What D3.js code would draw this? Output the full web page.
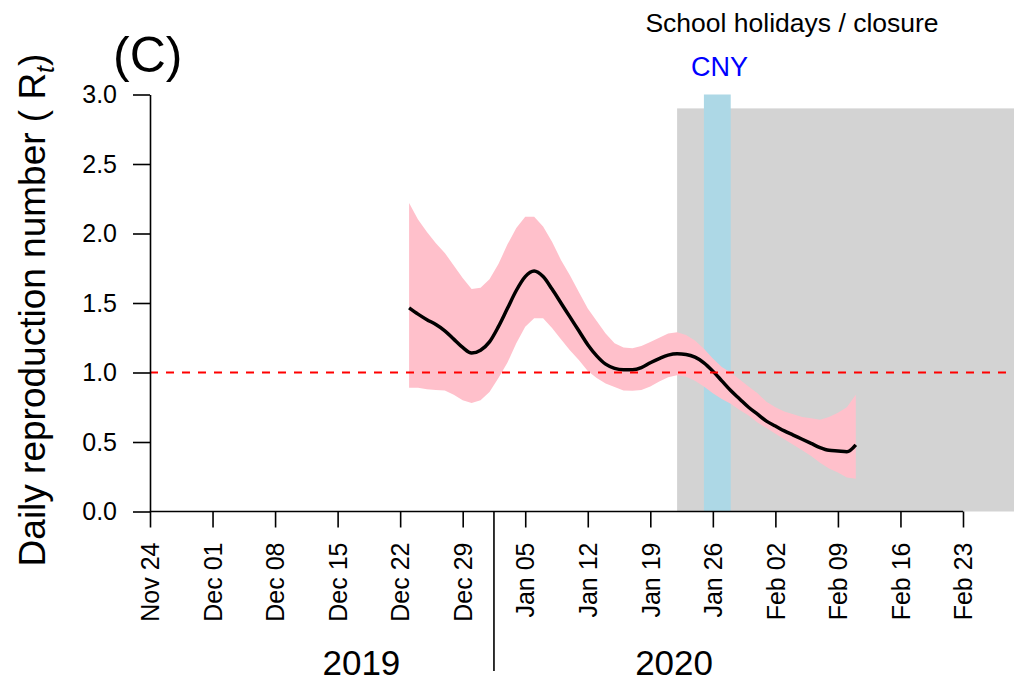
<!DOCTYPE html>
<html>
<head>
<meta charset="utf-8">
<script src="https://cdn.jsdelivr.net/npm/d3@7"></script>
<style>
  body { margin: 0; background: #fff; }
  svg { display: block; font-family: "Liberation Sans", Arial, sans-serif; }
</style>
</head>
<body>
<div id="chart"></div>
<script>
// daily estimates, Dec 23 2019 .. Feb 11 2020
const startDate = "2019-12-23";
const rtMean = [1.465, 1.42, 1.38, 1.345, 1.30, 1.24, 1.18, 1.14, 1.16, 1.22,
  1.33, 1.46, 1.59, 1.69, 1.73, 1.69, 1.60, 1.50, 1.40, 1.30,
  1.20, 1.12, 1.06, 1.03, 1.02, 1.02, 1.035, 1.07, 1.10, 1.125,
  1.135, 1.13, 1.11, 1.07, 1.01, 0.94, 0.87, 0.81, 0.75, 0.70,
  0.65, 0.615, 0.58, 0.55, 0.52, 0.49, 0.46, 0.44, 0.435, 0.43, 0.48];
const rtUpper = [2.22, 2.10, 2.01, 1.93, 1.86, 1.77, 1.68, 1.60, 1.61, 1.67,
  1.78, 1.92, 2.04, 2.12, 2.12, 2.05, 1.94, 1.81, 1.70, 1.58,
  1.46, 1.37, 1.28, 1.21, 1.18, 1.175, 1.19, 1.22, 1.25, 1.28,
  1.29, 1.27, 1.23, 1.17, 1.10, 1.04, 1.00, 0.95, 0.90, 0.85,
  0.79, 0.75, 0.72, 0.70, 0.68, 0.67, 0.66, 0.68, 0.71, 0.75, 0.84];
const rtLower = [0.89, 0.89, 0.88, 0.875, 0.87, 0.84, 0.80, 0.78, 0.80, 0.86,
  0.96, 1.07, 1.21, 1.33, 1.39, 1.39, 1.32, 1.24, 1.16, 1.09,
  1.01, 0.96, 0.92, 0.895, 0.87, 0.868, 0.875, 0.90, 0.935, 0.965,
  0.98, 0.97, 0.94, 0.90, 0.85, 0.81, 0.775, 0.73, 0.69, 0.64,
  0.60, 0.56, 0.52, 0.48, 0.44, 0.40, 0.35, 0.31, 0.28, 0.245, 0.235];

const tickDates = ["2019-11-24", "2019-12-01", "2019-12-08", "2019-12-15", "2019-12-22",
  "2019-12-29", "2020-01-05", "2020-01-12", "2020-01-19", "2020-01-26",
  "2020-02-02", "2020-02-09", "2020-02-16", "2020-02-23"];
const yTicks = [0, 0.5, 1, 1.5, 2, 2.5, 3];
const schoolClosure = ["2020-01-22", "2020-03-05", 2.9];
const cny = ["2020-01-25", "2020-01-28", 3.0];
const years = [{label: "2019", date: "2019-12-18"}, {label: "2020", date: "2020-01-22"}];
const yearBreak = "2020-01-01T12:00";

const W = 1014, H = 682;
const parse = d3.isoParse;
const day0 = parse(startDate);
const data = rtMean.map((m, i) => ({
  date: d3.timeDay.offset(day0, i), mean: m, lo: rtLower[i], hi: rtUpper[i]
}));

const svg = d3.select("#chart").append("svg")
  .attr("width", W).attr("height", H);

// scales
const x = d3.scaleTime()
  .domain([parse("2019-11-24"), parse("2020-02-29")])
  .range([150, 150 + 97 * 8.934]);
const y = d3.scaleLinear().domain([0, 3]).range([511.5, 94.5]);

// shaded periods
svg.append("rect")
  .attr("x", x(parse(schoolClosure[0])))
  .attr("y", y(schoolClosure[2]))
  .attr("width", W - x(parse(schoolClosure[0])))
  .attr("height", y(0) - y(schoolClosure[2]))
  .attr("fill", "#d3d3d3");

svg.append("rect")
  .attr("x", x(parse(cny[0])))
  .attr("y", y(cny[2]))
  .attr("width", x(parse(cny[1])) - x(parse(cny[0])))
  .attr("height", y(0) - y(cny[2]))
  .attr("fill", "#add8e6");

// credible interval
svg.append("path")
  .datum(data)
  .attr("fill", "#ffc0cb")
  .attr("d", d3.area().x(d => x(d.date)).y0(d => y(d.lo)).y1(d => y(d.hi)));

// mean Rt
svg.append("path")
  .datum(data)
  .attr("fill", "none")
  .attr("stroke", "#000")
  .attr("stroke-width", 3.5)
  .attr("stroke-linejoin", "round")
  .attr("d", d3.line().x(d => x(d.date)).y(d => y(d.mean)).curve(d3.curveMonotoneX));

// threshold R = 1
svg.append("line")
  .attr("x1", x.range()[0]).attr("x2", W)
  .attr("y1", y(1)).attr("y2", y(1))
  .attr("stroke", "#ff0000")
  .attr("stroke-width", 2)
  .attr("stroke-dasharray", "8,8");

// y axis
const yAxis = svg.append("g")
  .attr("transform", "translate(150,0)")
  .call(d3.axisLeft(y).tickValues(yTicks).tickFormat(d3.format(".1f")).tickSize(17).tickSizeOuter(0));
yAxis.select(".domain").attr("stroke-width", 1.6);
yAxis.selectAll(".tick line").attr("stroke-width", 1.6);
yAxis.selectAll("text")
  .attr("font-size", 25)
  .attr("font-family", "Liberation Sans, Arial, sans-serif")
  .attr("fill", "#000")
  .attr("x", -33);

// x axis
const xAxis = svg.append("g")
  .attr("transform", `translate(0,${y(0)})`)
  .call(d3.axisBottom(x).tickValues(tickDates.map(parse))
    .tickFormat(d3.timeFormat("%b %d")).tickSize(16).tickSizeOuter(0));
xAxis.select(".domain").attr("d", `M${x(parse(tickDates[0]))},0H${x(parse(tickDates[tickDates.length - 1]))}`)
  .attr("stroke-width", 1.6);
xAxis.selectAll(".tick line").attr("stroke-width", 1.6);
xAxis.selectAll("text")
  .attr("font-size", 25)
  .attr("font-family", "Liberation Sans, Arial, sans-serif")
  .attr("fill", "#000")
  .attr("transform", "rotate(-90)")
  .attr("text-anchor", "end")
  .attr("x", -31)
  .attr("y", 0)
  .attr("dy", "0.35em");

// year separator and labels
svg.append("line")
  .attr("x1", x(parse(yearBreak))).attr("x2", x(parse(yearBreak)))
  .attr("y1", y(0)).attr("y2", 671)
  .attr("stroke", "#000").attr("stroke-width", 1.6);

svg.selectAll(".year")
  .data(years)
  .enter()
  .append("text")
  .attr("x", d => x(parse(d.date)) - 3)
  .attr("y", 675)
  .attr("text-anchor", "middle")
  .attr("font-size", 35)
  .text(d => d.label);

// y label
const yl = svg.append("text")
  .attr("transform", "translate(45,310) rotate(-90)")
  .attr("text-anchor", "middle")
  .attr("font-size", 37);
yl.append("tspan").text("Daily reproduction number ( R");
yl.append("tspan").attr("font-size", 25).attr("font-style", "italic").attr("dy", 9).text("t");
yl.append("tspan").attr("dy", -9).text(")");

// panel tag and annotations
svg.append("text").attr("x", 113).attr("y", 72).attr("font-size", 50).text("(C)");
svg.append("text").attr("x", 792).attr("y", 32).attr("text-anchor", "middle")
  .attr("font-size", 26.5).text("School holidays / closure");
svg.append("text").attr("x", 719.5).attr("y", 76).attr("text-anchor", "middle")
  .attr("font-size", 27).attr("fill", "#0000ff").text("CNY");
</script>
</body>
</html>
